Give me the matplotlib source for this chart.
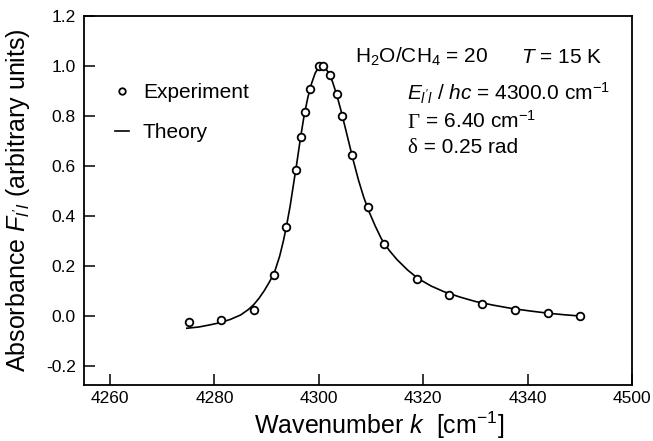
import matplotlib
matplotlib.use("Agg")
from matplotlib import pyplot

# DATA
exp_k = [4275.1, 4281.2, 4287.6, 4291.5, 4293.7, 4295.6, 4296.5, 4297.4, 4298.3,
         4300.0, 4300.7, 4302.2, 4303.4, 4304.5, 4306.3, 4309.4, 4312.5, 4318.9,
         4325.0, 4331.3, 4337.5, 4343.9, 4350.0]
exp_abs = [-0.025, -0.014, 0.025, 0.166, 0.357, 0.586, 0.717, 0.817, 0.908,
           1.000, 1.000, 0.965, 0.888, 0.801, 0.644, 0.435, 0.287, 0.147,
           0.085, 0.048, 0.025, 0.013, -0.001]

theory_k = [4274.7, 4277.0, 4279.0, 4281.0, 4283.0, 4285.0, 4286.5, 4287.5, 4288.5,
            4289.5, 4290.5, 4291.5, 4292.5, 4293.2, 4293.8, 4294.5, 4295.2, 4295.8,
            4296.5, 4297.2, 4297.9, 4298.6, 4299.3, 4300.0, 4300.6, 4301.2, 4301.9,
            4302.6, 4303.4, 4304.2, 4305.0, 4305.8, 4306.6, 4307.6, 4308.6, 4309.6,
            4310.8, 4312.0, 4313.5, 4315.0, 4317.0, 4319.0, 4321.5, 4324.0, 4327.0,
            4330.0, 4333.5, 4337.0, 4340.5, 4344.0, 4347.0, 4350.0]
theory_abs = [-0.049, -0.044, -0.036, -0.027, -0.014, 0.004, 0.026, 0.045, 0.070,
              0.100, 0.135, 0.175, 0.240, 0.300, 0.360, 0.440, 0.535, 0.615,
              0.715, 0.805, 0.875, 0.930, 0.972, 0.995, 1.000, 0.993, 0.972,
              0.938, 0.886, 0.825, 0.758, 0.690, 0.622, 0.543, 0.475, 0.418,
              0.360, 0.308, 0.262, 0.225, 0.184, 0.150, 0.120, 0.097, 0.076,
              0.058, 0.043, 0.030, 0.020, 0.011, 0.005, 0.000]

x_ticks = [4260, 4280, 4300, 4320, 4340, 4360]
x_tick_labels = ["4260", "4280", "4300", "4320", "4340", "4500"]
y_ticks = [-0.2, 0.0, 0.2, 0.4, 0.6, 0.8, 1.0, 1.2]

pyplot.rcParams["font.family"] = ["Liberation Sans", "DejaVu Sans"]
pyplot.rcParams["mathtext.fontset"] = "custom"
pyplot.rcParams["mathtext.rm"] = "Liberation Sans"
pyplot.rcParams["mathtext.it"] = "Liberation Sans:italic"
pyplot.rcParams["axes.unicode_minus"] = False

canvas = pyplot.figure(figsize=(6.53, 4.41), dpi=100)
axes = canvas.add_axes([84 / 653, 1 - 385 / 441, 548 / 653, 369 / 441])

axes.plot(theory_k, theory_abs, color="black", lw=1.2, label="Theory")
axes.plot(exp_k, exp_abs, ls="none", marker="o", ms=5.5, mfc="white", mec="black",
          mew=1.3, label="Experiment")

axes.set_xlim(4255, 4360)
axes.set_ylim(-0.276, 1.2)
axes.set_xticks(x_ticks)
axes.set_xticklabels(x_tick_labels)
axes.set_yticks(y_ticks)
axes.set_yticklabels(["%.1f" % v for v in y_ticks])
axes.tick_params(direction="in", length=8, width=1.1, labelsize=12.5, pad=6)
axes.tick_params(axis="x", pad=4)
for s in axes.spines.values():
    s.set_linewidth(1.3)

axes.set_xlabel(r"Wavenumber $k$  [cm$^{-1}$]", fontsize=18)
axes.xaxis.set_label_coords(0.538, -0.068)
axes.set_ylabel(r"Absorbance $F_{l'l}$ (arbitrary units)", fontsize=18)
axes.yaxis.set_label_coords(-0.095, 0.5)

handles, labels = axes.get_legend_handles_labels()
axes.legend(handles[::-1], labels[::-1], loc="upper left", bbox_to_anchor=(0.056, 0.818),
            frameon=False, fontsize=15, handlelength=0.7, handletextpad=0.65,
            labelspacing=1.0, borderpad=0, borderaxespad=0, markerscale=0.85)

def put(x, y, s, family=None):
    canvas.text(x / 653, 1 - y / 441, s, fontsize=15, ha="left", va="baseline",
                family=family)

put(355, 63, r"H$_2$O/CH$_4$ = 20")
put(521, 63, r"$T$ = 15 K")
put(407, 101, r"$E_{l'l}$ / $hc$ = 4300.0 cm$^{-1}$")
# SERIF GREEK LETTERS, REST IN SANS
put(407, 128, "Γ", family="Liberation Serif")
put(420, 128, r" = 6.40 cm$^{-1}$")
put(407, 153, "δ", family="Liberation Serif")
put(418, 153, " = 0.25 rad")

pyplot.savefig("out.png", dpi=100)
